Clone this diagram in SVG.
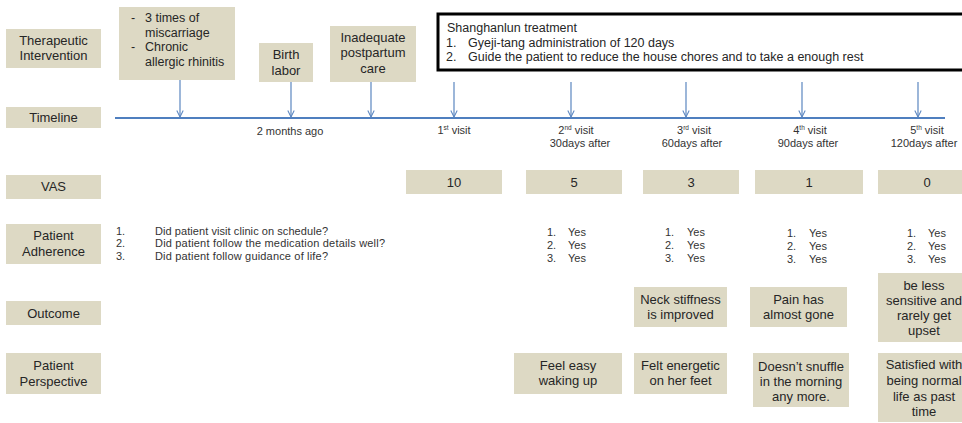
<svg xmlns="http://www.w3.org/2000/svg" width="962" height="423" viewBox="0 0 962 423">
<defs>
<style>
.box{fill:#ddd9c4}
.t{font-family:"Liberation Sans",Arial,sans-serif;font-size:13px;fill:#262626}
.tc{text-anchor:middle}
.s{font-family:"Liberation Sans",Arial,sans-serif;font-size:11px;fill:#333}
.y{font-family:"Liberation Sans",Arial,sans-serif;font-size:11px;fill:#333}
.sup{font-size:6.5px}
.conn{stroke:#5b86c0;stroke-width:1.2;fill:none}
</style>
<marker id="ah" viewBox="0 0 10 10" refX="9" refY="5" markerWidth="8" markerHeight="9" markerUnits="userSpaceOnUse" orient="auto">
<path d="M1,1 L9,5 L1,9" fill="none" stroke="#5b86c0" stroke-width="1.3"/>
</marker>
</defs>
<rect width="962" height="423" fill="#fff"/>

<!-- row labels -->
<g id="lbl-therapeutic"><rect class="box" x="6" y="29" width="95" height="39"/><text class="t tc" x="53.5" y="45">Therapeutic</text><text class="t tc" x="53.5" y="60">Intervention</text></g>
<g id="lbl-timeline"><rect class="box" x="6" y="107" width="95" height="21"/><text class="t tc" x="53.5" y="122">Timeline</text></g>
<g id="lbl-vas"><rect class="box" x="6" y="175" width="95" height="24"/><text class="t tc" x="53.5" y="191">VAS</text></g>
<g id="lbl-adherence"><rect class="box" x="6" y="224" width="95" height="40"/><text class="t tc" x="53.5" y="240">Patient</text><text class="t tc" x="53.5" y="256">Adherence</text></g>
<g id="lbl-outcome"><rect class="box" x="6" y="301" width="95" height="24"/><text class="t tc" x="53.5" y="318">Outcome</text></g>
<g id="lbl-perspective"><rect class="box" x="6" y="353" width="95" height="41"/><text class="t tc" x="53.5" y="370">Patient</text><text class="t tc" x="53.5" y="386">Perspective</text></g>

<!-- events -->
<g id="ev-history"><rect class="box" x="119" y="7" width="116" height="73"/>
<text class="t" style="font-size:12.5px" x="131" y="22">-</text><text class="t" style="font-size:12.5px" x="145" y="22">3 times of</text>
<text class="t" style="font-size:12.5px" x="145" y="36.5">miscarriage</text>
<text class="t" style="font-size:12.5px" x="131" y="51">-</text><text class="t" style="font-size:12.5px" x="145" y="51">Chronic</text>
<text class="t" style="font-size:12.5px" x="145" y="65.5">allergic  rhinitis</text></g>
<g id="ev-birth"><rect class="box" x="259" y="43" width="54" height="39"/><text class="t tc" x="286" y="59">Birth</text><text class="t tc" x="286" y="75">labor</text></g>
<g id="ev-postpartum"><rect class="box" x="330" y="26" width="86" height="56"/><text class="t tc" x="373" y="42">Inadequate</text><text class="t tc" x="373" y="57">postpartum</text><text class="t tc" x="373" y="73">care</text></g>
<g id="ev-treatment"><rect x="438" y="14" width="530" height="56" fill="#fff" stroke="#000" stroke-width="3"/>
<text class="t" style="font-size:12.5px" x="447" y="32">Shanghanlun treatment</text>
<text class="t" style="font-size:12.5px" x="446" y="46.5">1.</text><text class="t" style="font-size:12.5px" x="468" y="46.5">Gyeji-tang administration of 120 days</text>
<text class="t" style="font-size:12.5px" x="446" y="61">2.</text><text class="t" style="font-size:12.5px" x="468" y="61">Guide the patient to reduce the house chores and to take a enough rest</text></g>

<!-- connectors -->
<g id="connectors">
<line x1="115" y1="118" x2="945" y2="118" stroke="#4f7fbf" stroke-width="1.8"/>
<line class="conn" x1="180" y1="80" x2="180" y2="117" marker-end="url(#ah)"/>
<line class="conn" x1="291" y1="82" x2="291" y2="117" marker-end="url(#ah)"/>
<line class="conn" x1="371" y1="82" x2="371" y2="117" marker-end="url(#ah)"/>
<line class="conn" x1="454" y1="82" x2="454" y2="117" marker-end="url(#ah)"/>
<line class="conn" x1="571" y1="82" x2="571" y2="117" marker-end="url(#ah)"/>
<line class="conn" x1="686" y1="82" x2="686" y2="117" marker-end="url(#ah)"/>
<line class="conn" x1="802" y1="82" x2="802" y2="117" marker-end="url(#ah)"/>
<line class="conn" x1="918" y1="82" x2="918" y2="117" marker-end="url(#ah)"/>
</g>

<!-- timeline labels -->
<g id="tl-labels">
<text class="s tc" x="290" y="135">2 months ago</text>
<text class="s tc" x="454" y="134">1<tspan class="sup" dy="-4">st</tspan><tspan dy="4"> visit</tspan></text>
<text class="s tc" x="576" y="134">2<tspan class="sup" dy="-4">nd</tspan><tspan dy="4"> visit</tspan></text>
<text class="s tc" x="580" y="146.5">30days after</text>
<text class="s tc" x="694" y="134">3<tspan class="sup" dy="-4">rd</tspan><tspan dy="4"> visit</tspan></text>
<text class="s tc" x="692" y="146.5">60days after</text>
<text class="s tc" x="810" y="134">4<tspan class="sup" dy="-4">th</tspan><tspan dy="4"> visit</tspan></text>
<text class="s tc" x="808" y="146.5">90days after</text>
<text class="s tc" x="927" y="134">5<tspan class="sup" dy="-4">th</tspan><tspan dy="4"> visit</tspan></text>
<text class="s tc" x="924" y="146.5">120days after</text>
</g>

<!-- VAS -->
<g id="vas-1"><rect class="box" x="406" y="170" width="96" height="24"/><text class="t tc" x="454" y="187">10</text></g>
<g id="vas-2"><rect class="box" x="526" y="170" width="96" height="24"/><text class="t tc" x="574" y="187">5</text></g>
<g id="vas-3"><rect class="box" x="643" y="170" width="96" height="24"/><text class="t tc" x="691" y="187">3</text></g>
<g id="vas-4"><rect class="box" x="755" y="170" width="108" height="24"/><text class="t tc" x="809" y="187">1</text></g>
<g id="vas-5"><rect class="box" x="878" y="170" width="90" height="24"/><text class="t tc" x="927" y="187">0</text></g>

<!-- adherence -->
<g id="adherence-questions">
<text class="s" x="116" y="234.5">1.</text><text class="s" x="155" y="234.5" textLength="173" lengthAdjust="spacing">Did patient visit clinic on schedule?</text>
<text class="s" x="116" y="247">2.</text><text class="s" x="155" y="247" textLength="230" lengthAdjust="spacing">Did patient follow the medication details well?</text>
<text class="s" x="116" y="259.5">3.</text><text class="s" x="155" y="259.5" textLength="173" lengthAdjust="spacing">Did patient follow guidance of life?</text>
</g>
<g id="adh-2"><text class="y" x="547" y="236">1.</text><text class="y" x="568" y="236">Yes</text><text class="y" x="547" y="249">2.</text><text class="y" x="568" y="249">Yes</text><text class="y" x="547" y="262">3.</text><text class="y" x="568" y="262">Yes</text></g>
<g id="adh-3"><text class="y" x="665" y="236">1.</text><text class="y" x="687" y="236">Yes</text><text class="y" x="665" y="249">2.</text><text class="y" x="687" y="249">Yes</text><text class="y" x="665" y="262">3.</text><text class="y" x="687" y="262">Yes</text></g>
<g id="adh-4"><text class="y" x="787" y="237">1.</text><text class="y" x="809" y="237">Yes</text><text class="y" x="787" y="250">2.</text><text class="y" x="809" y="250">Yes</text><text class="y" x="787" y="263">3.</text><text class="y" x="809" y="263">Yes</text></g>
<g id="adh-5"><text class="y" x="907" y="237">1.</text><text class="y" x="928" y="237">Yes</text><text class="y" x="907" y="250">2.</text><text class="y" x="928" y="250">Yes</text><text class="y" x="907" y="263">3.</text><text class="y" x="928" y="263">Yes</text></g>

<!-- outcome -->
<g id="out-3"><rect class="box" x="634" y="287" width="93" height="40"/><text class="t tc" x="680.5" y="304">Neck stiffness</text><text class="t tc" x="680.5" y="319">is improved</text></g>
<g id="out-4"><rect class="box" x="750" y="287" width="97" height="40"/><text class="t tc" x="798.5" y="304">Pain has</text><text class="t tc" x="798.5" y="319">almost gone</text></g>
<g id="out-5"><rect class="box" x="878" y="273" width="95" height="69"/><text class="t tc" x="924" y="290">be less</text><text class="t tc" x="924" y="305">sensitive and</text><text class="t tc" x="924" y="320">rarely get</text><text class="t tc" x="924" y="335">upset</text></g>

<!-- perspective -->
<g id="persp-2"><rect class="box" x="514" y="353" width="108" height="41"/><text class="t tc" x="568" y="370">Feel easy</text><text class="t tc" x="568" y="385">waking up</text></g>
<g id="persp-3"><rect class="box" x="634" y="353" width="93" height="41"/><text class="t tc" x="680.5" y="370">Felt energetic</text><text class="t tc" x="680.5" y="385">on her feet</text></g>
<g id="persp-4"><rect class="box" x="753" y="353" width="96" height="54"/><text class="t tc" x="801" y="371">Doesn’t snuffle</text><text class="t tc" x="801" y="386">in the morning</text><text class="t tc" x="801" y="401">any more.</text></g>
<g id="persp-5"><rect class="box" x="878" y="353" width="95" height="69"/><text class="t tc" x="924" y="369">Satisfied with</text><text class="t tc" x="924" y="385">being normal</text><text class="t tc" x="924" y="401">life as past</text><text class="t tc" x="924" y="416">time</text></g>
</svg>
